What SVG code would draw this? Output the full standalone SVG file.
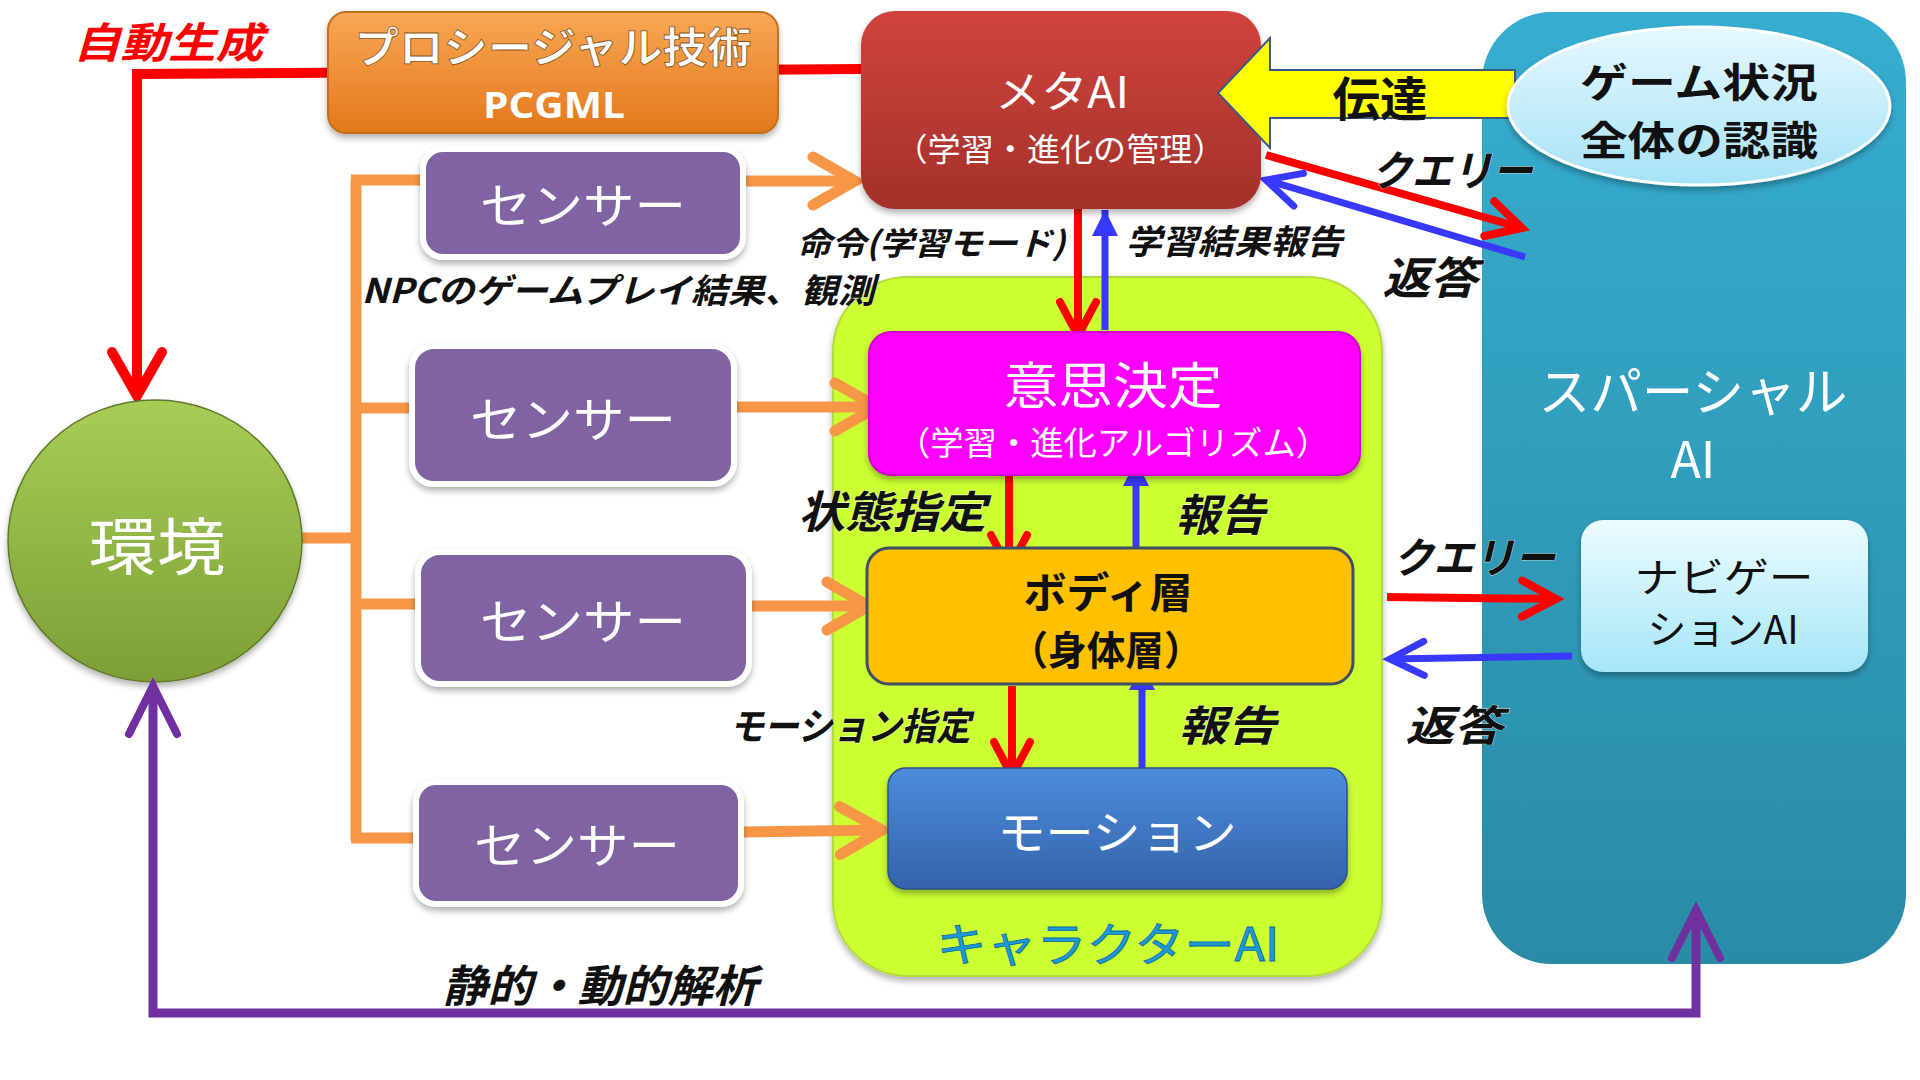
<svg xmlns="http://www.w3.org/2000/svg" width="1920" height="1080" viewBox="0 0 1920 1080">
<defs>
<style>
text{font-family:"Noto Sans CJK JP","Noto Sans",sans-serif;dominant-baseline:central;text-anchor:middle}
.w{fill:#fff}
.wb{fill:#fff;font-weight:bold}
.lbl{fill:#111;font-weight:bold;font-style:italic;stroke:#fff;stroke-width:0.6;paint-order:stroke}
.blk{fill:#111;font-weight:bold}
.sensor rect{fill:#8064a2;stroke:#fff;stroke-width:6}
.sensor text{fill:#fff;font-size:48px}
</style>
<linearGradient id="gOrange" x1="0" y1="0" x2="0" y2="1"><stop offset="0" stop-color="#f8a755"/><stop offset="1" stop-color="#e4781c"/></linearGradient>
<linearGradient id="gMeta" x1="0" y1="0" x2="0" y2="1"><stop offset="0" stop-color="#d0443c"/><stop offset="1" stop-color="#a3302a"/></linearGradient>
<linearGradient id="gSpatial" x1="0" y1="0" x2="0" y2="1"><stop offset="0" stop-color="#36aed0"/><stop offset="1" stop-color="#2a8ba6"/></linearGradient>
<linearGradient id="gNav" x1="0" y1="0" x2="0" y2="1"><stop offset="0" stop-color="#ecfcff"/><stop offset="1" stop-color="#a6e6f8"/></linearGradient>
<linearGradient id="gGame" x1="0" y1="0" x2="0" y2="1"><stop offset="0" stop-color="#e6f8ff"/><stop offset="1" stop-color="#a6e2f6"/></linearGradient>
<linearGradient id="gMotion" x1="0" y1="0" x2="0" y2="1"><stop offset="0" stop-color="#4d8ddc"/><stop offset="1" stop-color="#3462aa"/></linearGradient>
<linearGradient id="gEnv" x1="0" y1="0" x2="0" y2="1"><stop offset="0" stop-color="#a6ce56"/><stop offset="1" stop-color="#7c9f36"/></linearGradient>
<filter id="sh" x="-10%" y="-10%" width="120%" height="130%"><feDropShadow dx="0" dy="4" stdDeviation="3" flood-color="#000" flood-opacity="0.3"/></filter>
<marker id="mRedBig" markerUnits="userSpaceOnUse" viewBox="-60 -40 70 80" markerWidth="70" markerHeight="80" refX="0" refY="0" orient="auto"><path d="M-44,-25 L0,0 L-44,25" fill="none" stroke="#ff0000" stroke-width="10" stroke-linecap="round"/></marker>
<marker id="mRed" markerUnits="userSpaceOnUse" viewBox="-50 -30 60 60" markerWidth="60" markerHeight="60" refX="0" refY="0" orient="auto"><path d="M-34,-18 L0,0 L-34,18" fill="none" stroke="#ff0000" stroke-width="8" stroke-linecap="round"/></marker>
<marker id="mBlue" markerUnits="userSpaceOnUse" viewBox="-50 -30 60 60" markerWidth="60" markerHeight="60" refX="0" refY="0" orient="auto"><path d="M-34,-17 L0,0 L-34,17" fill="none" stroke="#3838ff" stroke-width="7" stroke-linecap="round"/></marker>
<marker id="mBlueTri" markerUnits="userSpaceOnUse" viewBox="-30 -20 35 40" markerWidth="35" markerHeight="40" refX="0" refY="0" orient="auto"><path d="M-26,-13 L0,0 L-26,13 Z" fill="#3838ff"/></marker>
<marker id="mOrange" markerUnits="userSpaceOnUse" viewBox="-60 -40 70 80" markerWidth="70" markerHeight="80" refX="0" refY="0" orient="auto"><path d="M-42,-24 L0,0 L-42,24" fill="none" stroke="#f79646" stroke-width="11" stroke-linecap="round"/></marker>
<marker id="mPurple" markerUnits="userSpaceOnUse" viewBox="-60 -40 70 80" markerWidth="70" markerHeight="80" refX="0" refY="0" orient="auto-start-reverse"><path d="M-48,-24 L0,0 L-48,24" fill="none" stroke="#7030a0" stroke-width="8" stroke-linecap="round"/></marker>
</defs>
<rect width="1920" height="1080" fill="#fff"/>

<g id="spatial-ai">
<rect x="1482" y="12" width="424" height="952" rx="70" fill="url(#gSpatial)"/>
<text class="w" x="1693" y="388" font-size="52" textLength="309" lengthAdjust="spacingAndGlyphs">スパーシャル</text>
<text class="w" x="1693" y="456" font-size="50">AI</text>
</g>

<g id="character-ai">
<rect x="833" y="277" width="549" height="699" rx="75" fill="#ccff33" stroke="#b2dc3c" stroke-width="2" filter="url(#sh)"/>
<text x="1108" y="941" font-size="46" fill="#1e9ad6" stroke="#0d6aa0" stroke-width="0.8" textLength="343" lengthAdjust="spacingAndGlyphs">キャラクターAI</text>
</g>

<g id="connectors">
<path d="M861,69 L137,74 L137,396" fill="none" stroke="#ff0000" stroke-width="10" marker-end="url(#mRedBig)"/>
<path d="M302,538 L356,538 M356,180 L356,840 M351,180 L424,180 M351,408 L413,408 M351,604 L419,604 M351,838 L418,838" fill="none" stroke="#f79646" stroke-width="11"/>
<path d="M743,181 L855,181" stroke="#f79646" stroke-width="11" marker-end="url(#mOrange)"/>
<path d="M734,407 L877,407" stroke="#f79646" stroke-width="11" marker-end="url(#mOrange)"/>
<path d="M749,606 L869,606" stroke="#f79646" stroke-width="11" marker-end="url(#mOrange)"/>
<path d="M741,832 L882,830" stroke="#f79646" stroke-width="11" marker-end="url(#mOrange)"/>
<path d="M1078,208 L1078,336" stroke="#ff0000" stroke-width="8" marker-end="url(#mRed)"/>
<path d="M1105,330 L1105,210" stroke="#3838ff" stroke-width="7" marker-end="url(#mBlueTri)"/>
<path d="M1009,442 L1009,569" stroke="#ff0000" stroke-width="8" marker-end="url(#mRed)"/>
<path d="M1136,560 L1136,460" stroke="#3838ff" stroke-width="7" marker-end="url(#mBlueTri)"/>
<path d="M1012,686 L1012,776" stroke="#ff0000" stroke-width="8" marker-end="url(#mRed)"/>
<path d="M1142,768 L1142,664" stroke="#3838ff" stroke-width="7" marker-end="url(#mBlueTri)"/>
<path d="M1266,155 L1522,228" stroke="#ff0000" stroke-width="8" marker-end="url(#mRed)"/>
<path d="M1525,257 L1266,180" stroke="#3838ff" stroke-width="7" marker-end="url(#mBlue)"/>
<path d="M1387,597 L1556,599" stroke="#ff0000" stroke-width="8" marker-end="url(#mRed)"/>
<path d="M1572,656 L1390,659" stroke="#3838ff" stroke-width="7" marker-end="url(#mBlue)"/>
</g>

<g id="pcgml">
<rect x="328" y="12" width="450" height="121" rx="18" fill="url(#gOrange)" stroke="#c4701e" stroke-width="2" filter="url(#sh)"/>
<text class="wb" x="553" y="44" font-size="42" stroke="#8a5518" stroke-width="0.8" textLength="397" lengthAdjust="spacingAndGlyphs">プロシージャル技術</text>
<text class="wb" x="554" y="104" font-size="36" textLength="142" lengthAdjust="spacingAndGlyphs" style="font-family:'Open Sans','Noto Sans',sans-serif">PCGML</text>
</g>

<g id="meta-ai">
<rect x="861" y="11" width="400" height="198" rx="34" fill="url(#gMeta)" filter="url(#sh)"/>
<text class="w" x="1062" y="89" font-size="44" textLength="134" lengthAdjust="spacingAndGlyphs">メタAI</text>
<text class="w" x="1060" y="147" font-size="32" textLength="331" lengthAdjust="spacingAndGlyphs">（学習・進化の管理）</text>
</g>

<g id="transmit-arrow">
<path d="M1218,93 L1270,38 L1270,70 L1515,70 L1515,118 L1270,118 L1270,148 Z" fill="#ffff00" stroke="#3a5a86" stroke-width="2"/>
<text class="blk" x="1380" y="95" font-size="47" textLength="95" lengthAdjust="spacingAndGlyphs">伝達</text>
</g>

<g id="game-state">
<ellipse cx="1699" cy="106" rx="191" ry="79" fill="url(#gGame)" stroke="#fff" stroke-width="3" filter="url(#sh)"/>
<text class="blk" x="1699" y="80" font-size="40" textLength="238" lengthAdjust="spacingAndGlyphs">ゲーム状況</text>
<text class="blk" x="1699" y="138" font-size="40" textLength="238" lengthAdjust="spacingAndGlyphs">全体の認識</text>
</g>

<g id="sensor1" class="sensor"><rect x="423" y="149" width="320" height="108" rx="20" filter="url(#sh)"/><text x="583" y="202" textLength="206" lengthAdjust="spacingAndGlyphs">センサー</text></g>
<g id="sensor2" class="sensor"><rect x="412" y="346" width="322" height="138" rx="22" filter="url(#sh)"/><text x="573" y="416" textLength="206" lengthAdjust="spacingAndGlyphs">センサー</text></g>
<g id="sensor3" class="sensor"><rect x="418" y="552" width="331" height="132" rx="22" filter="url(#sh)"/><text x="583" y="618" textLength="206" lengthAdjust="spacingAndGlyphs">センサー</text></g>
<g id="sensor4" class="sensor"><rect x="416" y="782" width="325" height="122" rx="20" filter="url(#sh)"/><text x="577" y="842" textLength="206" lengthAdjust="spacingAndGlyphs">センサー</text></g>

<g id="environment">
<ellipse cx="155" cy="541" rx="147" ry="141" fill="url(#gEnv)" stroke="#5e7a2a" stroke-width="1.5" filter="url(#sh)"/>
<text class="w" x="157" y="543" font-size="62" textLength="137" lengthAdjust="spacingAndGlyphs">環境</text>
</g>

<g id="decision">
<rect x="869" y="332" width="491" height="143" rx="22" fill="#ff00ff" stroke="#d000d0" stroke-width="2" filter="url(#sh)"/>
<text class="w" x="1113" y="382" font-size="50" textLength="219" lengthAdjust="spacingAndGlyphs">意思決定</text>
<text class="w" x="1113" y="441" font-size="33" textLength="432" lengthAdjust="spacingAndGlyphs">（学習・進化アルゴリズム）</text>
</g>

<g id="body-layer">
<rect x="867" y="548" width="486" height="136" rx="22" fill="#ffc000" stroke="#3f5066" stroke-width="3"/>
<text class="blk" x="1108" y="589" font-size="42" textLength="169" lengthAdjust="spacingAndGlyphs">ボディ層</text>
<text class="blk" x="1106" y="648" font-size="40" textLength="193" lengthAdjust="spacingAndGlyphs">（身体層）</text>
</g>

<g id="motion">
<rect x="888" y="768" width="459" height="121" rx="18" fill="url(#gMotion)" stroke="#2c5088" stroke-width="1.5" filter="url(#sh)"/>
<text class="w" x="1117" y="829" font-size="46" textLength="239" lengthAdjust="spacingAndGlyphs">モーション</text>
</g>

<g id="navigation-ai">
<rect x="1581" y="520" width="287" height="152" rx="22" fill="url(#gNav)" filter="url(#sh)"/>
<text fill="#111" x="1724" y="575" font-size="40" textLength="179" lengthAdjust="spacingAndGlyphs">ナビゲー</text>
<text fill="#111" x="1723" y="627" font-size="40" textLength="151" lengthAdjust="spacingAndGlyphs">ションAI</text>
</g>

<g id="purple-connector">
<path d="M153,686 L153,1013 L1696,1013 L1696,910" fill="none" stroke="#7030a0" stroke-width="9" marker-start="url(#mPurple)" marker-end="url(#mPurple)"/>
</g>

<g id="labels">
<text x="168" y="39" font-size="42" fill="#ff0000" font-weight="bold" font-style="italic" textLength="190" lengthAdjust="spacingAndGlyphs">自動生成</text>
<text class="lbl" x="1452" y="167" font-size="42" textLength="161" lengthAdjust="spacingAndGlyphs">クエリー</text>
<text class="lbl" x="1430" y="275" font-size="44" textLength="95" lengthAdjust="spacingAndGlyphs">返答</text>
<text class="lbl" x="931" y="241" font-size="32" textLength="268" lengthAdjust="spacingAndGlyphs">命令(学習モード)</text>
<text class="lbl" x="1234" y="239" font-size="34" textLength="217" lengthAdjust="spacingAndGlyphs">学習結果報告</text>
<text class="lbl" x="618" y="288" font-size="34" textLength="513" lengthAdjust="spacingAndGlyphs">NPCのゲームプレイ結果、観測</text>
<text class="lbl" x="892" y="509" font-size="44" textLength="188" lengthAdjust="spacingAndGlyphs">状態指定</text>
<text class="lbl" x="1220" y="512" font-size="44" textLength="90" lengthAdjust="spacingAndGlyphs">報告</text>
<text class="lbl" x="1474" y="554" font-size="42" textLength="162" lengthAdjust="spacingAndGlyphs">クエリー</text>
<text class="lbl" x="850" y="723" font-size="38" textLength="241" lengthAdjust="spacingAndGlyphs">モーション指定</text>
<text class="lbl" x="1227" y="722" font-size="42" textLength="98" lengthAdjust="spacingAndGlyphs">報告</text>
<text class="lbl" x="1454" y="722" font-size="42" textLength="97" lengthAdjust="spacingAndGlyphs">返答</text>
<text class="lbl" x="600" y="983" font-size="44" textLength="315" lengthAdjust="spacingAndGlyphs">静的・動的解析</text>
</g>
</svg>
